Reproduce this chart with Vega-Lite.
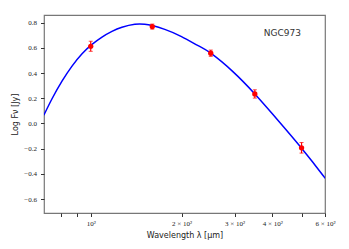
{
  "$schema": "https://vega.github.io/schema/vega-lite/v6.json",
  "autosize": "none",
  "width": 281,
  "height": 198,
  "padding": {"left": 44, "top": 15, "right": 24, "bottom": 36},
  "background": "white",
  "config": {
    "view": {"stroke": "#777", "strokeWidth": 1.2},
    "axis": {"grid": false, "domain": false, "tickColor": "#333", "tickSize": 3.5, "labelColor": "#222", "titleColor": "#222", "labelFont": "Liberation Serif", "labelFontSize": 7, "titleFont": "DejaVu Sans", "titleFontSize": 8, "titleFontWeight": "normal", "labelOverlap": false, "labelFlush": false, "labelBound": false}
  },
  "datasets": {
    "curve": [
      {"w": 69.9, "f": 0.065},
      {"w": 74.5, "f": 0.198},
      {"w": 80.4, "f": 0.337},
      {"w": 86.7, "f": 0.455},
      {"w": 93.6, "f": 0.552},
      {"w": 100.5, "f": 0.623},
      {"w": 109, "f": 0.685},
      {"w": 117.6, "f": 0.730},
      {"w": 126.9, "f": 0.763},
      {"w": 140, "f": 0.787},
      {"w": 151, "f": 0.787},
      {"w": 160, "f": 0.776},
      {"w": 176, "f": 0.746},
      {"w": 200, "f": 0.689},
      {"w": 227, "f": 0.617},
      {"w": 250, "f": 0.557},
      {"w": 296, "f": 0.411},
      {"w": 350, "f": 0.234},
      {"w": 402, "f": 0.071},
      {"w": 445, "f": -0.052},
      {"w": 500, "f": -0.196},
      {"w": 545, "f": -0.308},
      {"w": 591, "f": -0.417},
      {"w": 600, "f": -0.438}
    ],
    "obs": [
      {"w": 100, "f": 0.612, "lo": 0.572, "hi": 0.652},
      {"w": 160, "f": 0.768, "lo": 0.748, "hi": 0.788},
      {"w": 250, "f": 0.557, "lo": 0.532, "hi": 0.582},
      {"w": 350, "f": 0.234, "lo": 0.201, "hi": 0.267},
      {"w": 500, "f": -0.193, "lo": -0.235, "hi": -0.151}
    ],
    "label": [{"w": 432, "f": 0.718, "t": "NGC973"}]
  },
  "layer": [
    {
      "data": {"name": "curve"},
      "mark": {"type": "line", "color": "#0000ff", "strokeWidth": 1.5, "interpolate": "natural", "clip": true},
      "encoding": {
        "x": {"field": "w", "type": "quantitative",
          "scale": {"type": "log", "domain": [70, 598], "nice": false},
          "axis": {"values": [80, 90, 100, 200, 300, 400, 500, 598], "tickCount": 20,
            "labelExpr": "datum.value == 100 ? '10²' : datum.value == 200 ? '2 × 10²' : datum.value == 300 ? '3 × 10²' : datum.value == 400 ? '4 × 10²' : datum.value == 598 ? '6 × 10²' : ''",
            "labelPadding": 3,
            "title": "Wavelength λ [μm]", "titlePadding": 5}},
        "y": {"field": "f", "type": "quantitative",
          "scale": {"domain": [-0.71, 0.86], "nice": false, "zero": false},
          "axis": {"values": [-0.6, -0.4, -0.2, 0, 0.2, 0.4, 0.6, 0.8], "tickCount": 20,
            "labelExpr": "replace(format(datum.value, '.1f'), '-', '−')",
            "labelPadding": 4, "title": "Log Fν [Jy]", "titlePadding": 4}}
      }
    },
    {
      "data": {"name": "obs"},
      "mark": {"type": "rule", "color": "#ff0000", "strokeWidth": 1.2},
      "encoding": {
        "x": {"field": "w", "type": "quantitative"},
        "y": {"field": "lo", "type": "quantitative"},
        "y2": {"field": "hi"}
      }
    },
    {
      "data": {"name": "obs"},
      "mark": {"type": "tick", "color": "#ff0000", "orient": "horizontal", "size": 4, "thickness": 1},
      "encoding": {
        "x": {"field": "w", "type": "quantitative"},
        "y": {"field": "lo", "type": "quantitative"}
      }
    },
    {
      "data": {"name": "obs"},
      "mark": {"type": "tick", "color": "#ff0000", "orient": "horizontal", "size": 4, "thickness": 1},
      "encoding": {
        "x": {"field": "w", "type": "quantitative"},
        "y": {"field": "hi", "type": "quantitative"}
      }
    },
    {
      "data": {"name": "obs"},
      "mark": {"type": "circle", "color": "#ff0000", "opacity": 1, "size": 28},
      "encoding": {
        "x": {"field": "w", "type": "quantitative"},
        "y": {"field": "f", "type": "quantitative"}
      }
    },
    {
      "data": {"name": "label"},
      "mark": {"type": "text", "font": "DejaVu Sans", "fontSize": 9, "color": "#333", "align": "center", "baseline": "middle"},
      "encoding": {
        "x": {"field": "w", "type": "quantitative"},
        "y": {"field": "f", "type": "quantitative"},
        "text": {"field": "t"}
      }
    }
  ]
}
